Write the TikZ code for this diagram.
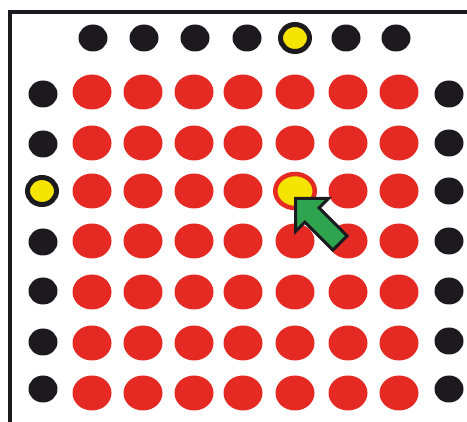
\documentclass[tikz,border=0pt]{standalone}
\usetikzlibrary{shapes.geometric}
\definecolor{dotred}{HTML}{E52A24}
\definecolor{dotblack}{HTML}{1C1A1F}
\definecolor{dotyellow}{HTML}{F5E400}
\definecolor{arrowgreen}{HTML}{2EA44F}
\tikzset{
  reddot/.style={ellipse, fill=dotred, inner sep=0pt, minimum width=39pt, minimum height=35pt},
  blackdot/.style={ellipse, fill=dotblack, inner sep=0pt, minimum width=29pt, minimum height=27pt},
  ringdot/.style={ellipse, fill=dotyellow, draw=dotblack, line width=5pt, inner sep=0pt, minimum width=29pt, minimum height=27pt},
  hitdot/.style={ellipse, fill=dotyellow, draw=dotred, line width=4.5pt, inner sep=0pt, minimum width=39.5pt, minimum height=34pt},
  framestyle/.style={draw=dotblack, line width=4pt, line join=miter},
  pointer/.style={draw=dotblack, fill=arrowgreen, line width=3pt, line join=miter}
}
\begin{document}
\begin{tikzpicture}[x=1pt,y=-1pt]
\useasboundingbox (0,0) rectangle (467,422);
% frame
\coordinate (fa) at (10,422);
\coordinate (fb) at (10,12);
\coordinate (fc) at (467,12);
\draw[framestyle] (fa) -- (fb) -- (fc);
% red grid
\foreach \x [count=\i] in {92,143,194,243,295,348,399}{
  \foreach \y [count=\j] in {92,143,191,241,292,343,393}{
    \ifnum\i=5 \ifnum\j=3 \relax\else
      \node[reddot] (r-\i-\j) at (\x,\y) {};
    \fi\else
      \node[reddot] (r-\i-\j) at (\x,\y) {};
    \fi
  }
}
\node[hitdot] (r-5-3) at (295,191) {};
% top row
\foreach \x [count=\i] in {93,144,195,247,295,346,396}{
  \ifnum\i=5
    \node[ringdot] (t-\i) at (\x,38) {};
  \else
    \node[blackdot] (t-\i) at (\x,38) {};
  \fi
}
% left column
\foreach \y [count=\j] in {94,144,191,242,291,342,389}{
  \ifnum\j=3
    \node[ringdot] (l-\j) at (42,\y) {};
  \else
    \node[blackdot] (l-\j) at (43,\y) {};
  \fi
}
% right column
\foreach \y [count=\j] in {94,143,191,241,291,341,389}{
  \node[blackdot] (rr-\j) at (449,\y) {};
}
% arrow
\draw[pointer] (295.5,198.5) -- (328.5,198.5) -- (319.1,207.9) -- (347.1,235.9) -- (332.9,250.1) -- (304.9,222.1) -- (295.5,231.5) -- cycle;
\end{tikzpicture}
\end{document}
